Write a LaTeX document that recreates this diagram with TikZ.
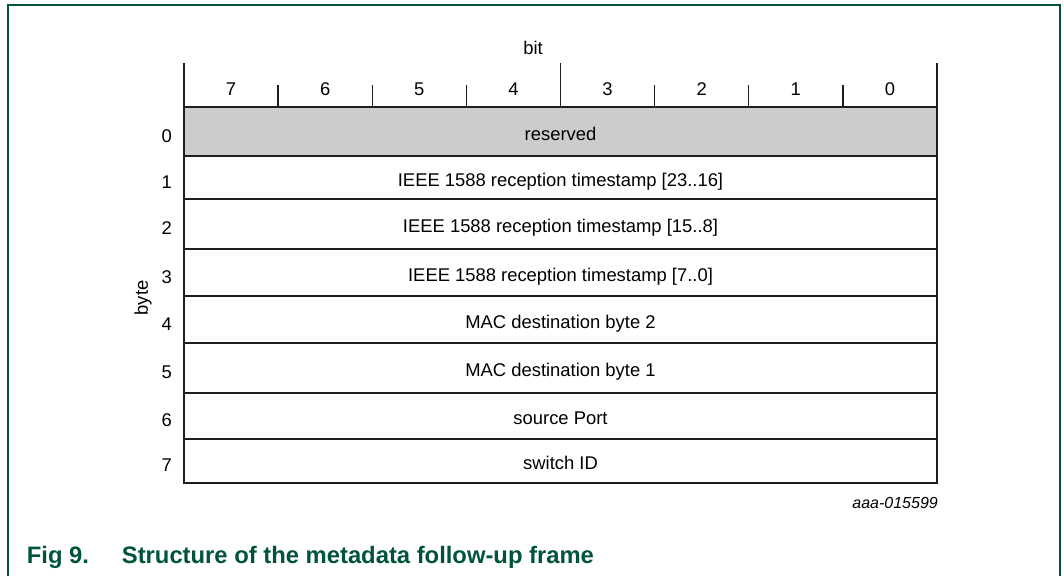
\documentclass[tikz,border=0pt]{standalone}
\usepackage{fontspec}
\setmainfont{Liberation Sans}
\definecolor{nxpgreen}{RGB}{0,84,62}
\definecolor{cellgray}{RGB}{204,204,204}
\definecolor{rule}{RGB}{30,30,30}
\begin{document}
\begin{tikzpicture}[x=1pt,y=-1pt,
  txt/.style={font=\fontsize{18.4}{22}\selectfont, inner sep=0pt},
  rowbox/.style={draw=rule, line width=1.3pt, minimum width=753pt, inner sep=0pt,
                 text height=18pt, text depth=1pt,
                 font=\fontsize{18.4}{22}\selectfont},
  grid/.style={draw=rule, line width=1.3pt},
  frameline/.style={draw=nxpgreen, line width=1.6pt},
  caption/.style={font=\fontsize{23.8}{27}\selectfont\bfseries, text=nxpgreen, inner sep=0pt, anchor=base west}]
  \useasboundingbox (0,0) rectangle (1064,576);

  % outer frame, open at the bottom
  \draw[frameline] (8,576) -- (8,5) -- (1060,5) -- (1060,576);

  % header: bit positions
  \def\L{184}\def\R{937}\def\colw{94.125}
  \node[txt] (bitlabel) at (533,48) {bit};
  \coordinate (hl) at (\L,63);
  \coordinate (hm) at (560.5,63);
  \coordinate (hr) at (\R,63);
  \draw[grid] (hl) -- (\L,107);
  \draw[grid] (hm) -- (560.5,107);
  \draw[grid] (hr) -- (\R,107);
  \foreach \k in {1,2,3,5,6,7}{
    \coordinate (t\k) at ({\L+\k*\colw},85);
    \draw[grid] (t\k) -- ({\L+\k*\colw},107);
  }
  \foreach \b [count=\i from 0] in {7,6,5,4,3,2,1,0}{
    \node[txt] (bit\b) at ({\L+(\i+0.5)*\colw},89) {\b};
  }

  % byte rows
  \node[rowbox, fill=cellgray, minimum height=49pt] (r0) at (560.5,131.5) {reserved};
  \node[rowbox, minimum height=43pt] (r1) at (560.5,177.5) {IEEE 1588 reception timestamp [23..16]};
  \node[rowbox, minimum height=50pt] (r2) at (560.5,224)   {IEEE 1588 reception timestamp [15..8]};
  \node[rowbox, minimum height=47pt] (r3) at (560.5,272.5) {IEEE 1588 reception timestamp [7..0]};
  \node[rowbox, minimum height=47pt] (r4) at (560.5,319.5) {MAC destination byte 2};
  \node[rowbox, minimum height=50pt] (r5) at (560.5,368)   {MAC destination byte 1};
  \node[rowbox, minimum height=46pt] (r6) at (560.5,416)   {source Port};
  \node[rowbox, minimum height=44pt] (r7) at (560.5,461)   {switch ID};

  % byte indices
  \foreach \n in {0,...,7}{
    \node[txt] (b\n) at ([xshift=-16.5pt,yshift=-4.5pt]r\n.west) {\n};
  }
  \node[txt, rotate=90] (bytelabel) at (143,298) {byte};

  % drawing reference
  \node[txt, font=\fontsize{16}{19}\selectfont\itshape, anchor=east] (ref) at (938,503) {aaa-015599};

  % figure caption
  \node[caption] (fignum) at (26.7,563) {Fig 9.};
  \node[caption] (figtitle) at (121.7,563) {Structure of the metadata follow-up frame};
\end{tikzpicture}
\end{document}
